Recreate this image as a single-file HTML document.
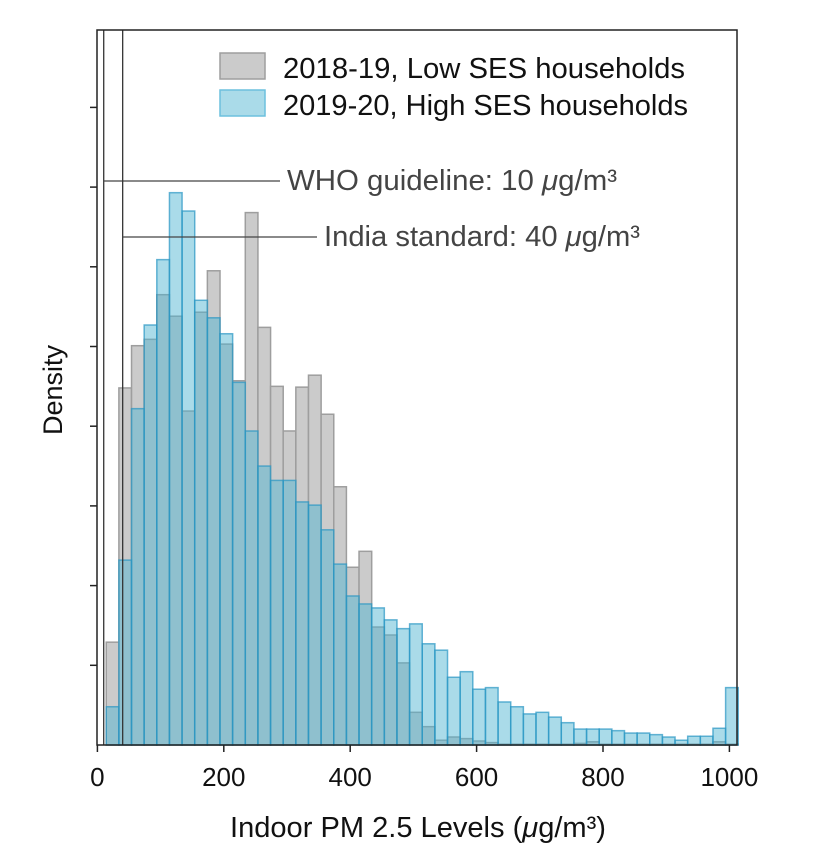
<!DOCTYPE html>
<html><head><meta charset="utf-8"><style>
html,body{margin:0;padding:0;background:#fff;}
svg{display:block;font-family:"Liberation Sans",sans-serif;}
</style></head><body>
<svg id="chart" width="816" height="862" viewBox="0 0 816 862">
<g id="bars"></g>
<g id="axes"></g>
<g>
<rect x="220" y="53" width="45" height="26" fill="#cbcbcb" stroke="#9e9e9e" stroke-width="1.5"/>
<text x="283" y="78" font-size="29" fill="#111" textLength="402" lengthAdjust="spacingAndGlyphs">2018-19, Low SES households</text>
<rect x="220" y="90" width="45" height="26" fill="#aadbe9" stroke="#6cc0de" stroke-width="1.5"/>
<text x="283" y="115" font-size="29" fill="#111" textLength="405" lengthAdjust="spacingAndGlyphs">2019-20, High SES households</text>
</g>
<text x="62" y="390" font-size="27" fill="#111" text-anchor="middle" transform="rotate(-90 62 390)">Density</text>
<text x="230" y="837" font-size="29" fill="#111" textLength="376" lengthAdjust="spacingAndGlyphs">Indoor PM 2.5 Levels (<tspan font-style="italic">μ</tspan>g/m³)</text>
</svg>
<script>
const binStart = 14;
const binWidth = 20;
const lowSES = [1.29,4.48,5.01,5.09,5.65,5.38,4.19,5.43,5.95,5.03,4.57,6.68,5.24,4.50,3.94,4.49,4.64,4.15,3.24,2.23,2.43,1.48,1.38,1.03,0.41,0.23,0.06,0.10,0.08,0.05,0.03,0.01,0.01,0.01,0.01,0.01,0.01,0.02,0.04,0.01,0.01,0.01,0.01,0.01,0.01,0.01,0.01,0.01,0.04,0.01];
const highSES = [0.48,2.32,4.22,5.27,6.09,6.93,6.70,5.58,5.36,5.16,4.55,3.94,3.50,3.32,3.32,3.05,3.01,2.70,2.27,1.87,1.77,1.72,1.57,1.46,1.52,1.27,1.19,0.85,0.92,0.70,0.72,0.54,0.48,0.39,0.41,0.35,0.28,0.20,0.20,0.20,0.18,0.15,0.15,0.13,0.10,0.06,0.11,0.11,0.21,0.72];
const xTicks = [0,200,400,600,800,1000];
const yTicks = [1,2,3,4,5,6,7,8];
const guideValues = [10,40];
const guideLabels = ["WHO guideline: 10 ","India standard: 40 "];

const L=97, R=737, T=30, B=745;
const x = v => 97.4 + v*0.632;
const y = v => B - v*79.7;
const NS="http://www.w3.org/2000/svg";
function mk(tag, attrs, parent){const e=document.createElementNS(NS,tag);for(const k in attrs)e.setAttribute(k,attrs[k]);parent.appendChild(e);return e;}
const bars=document.getElementById('bars');
const axes=document.getElementById('axes');

lowSES.forEach((v,i)=>{
  const x0=x(binStart+i*binWidth), x1=x(binStart+(i+1)*binWidth);
  const r=mk('rect',{x:x0,y:y(v),width:x1-x0,height:B-y(v),fill:'#cbcbcb',stroke:'#9e9e9e','stroke-width':1.5},bars);
  
  
});
highSES.forEach((v,i)=>{
  const x0=x(binStart+i*binWidth), x1=x(binStart+(i+1)*binWidth);
  const r=mk('rect',{x:x0,y:y(v),width:x1-x0,height:B-y(v),fill:'rgba(78,180,209,0.48)',stroke:'rgba(40,150,195,0.7)','stroke-width':1.5},bars);
  
  
});

guideValues.forEach((g,i)=>{
  const ly = i===0?181:237;
  const lx2 = i===0?280:317;
  const vl=mk('line',{x1:x(g),x2:x(g),y1:T,y2:B,stroke:'#333','stroke-width':1.3},axes);
  
  
  const hl=mk('line',{x1:x(g),x2:lx2,y1:ly,y2:ly,stroke:'#444','stroke-width':1.2},axes);
  
  
  const t=mk('text',{x:lx2+7,y:ly+9,'font-size':29,fill:'#444',textLength:i===0?330:316,lengthAdjust:'spacingAndGlyphs'},axes);
  t.textContent=guideLabels[i];
  const mu=mk('tspan',{'font-style':'italic'},t);
  mu.textContent='\u03bc';
  const rest=mk('tspan',{},t);
  rest.textContent='g/m\u00b3';
  
  
});

const fr=mk('rect',{x:L,y:T,width:R-L,height:B-T,fill:'none',stroke:'#222','stroke-width':1.5},axes);



xTicks.forEach(v=>{
  const tk=mk('line',{x1:x(v),x2:x(v),y1:B,y2:B+7,stroke:'#222','stroke-width':1.5},axes);
  
  
  const t=mk('text',{x:x(v),y:786,'font-size':26,'text-anchor':'middle',fill:'#111'},axes);
  t.textContent=v;
  
  
});
yTicks.forEach(v=>{
  const tk=mk('line',{x1:L-7,x2:L,y1:y(v),y2:y(v),stroke:'#222','stroke-width':1.5},axes);
  
  
});
</script>
</body></html>
